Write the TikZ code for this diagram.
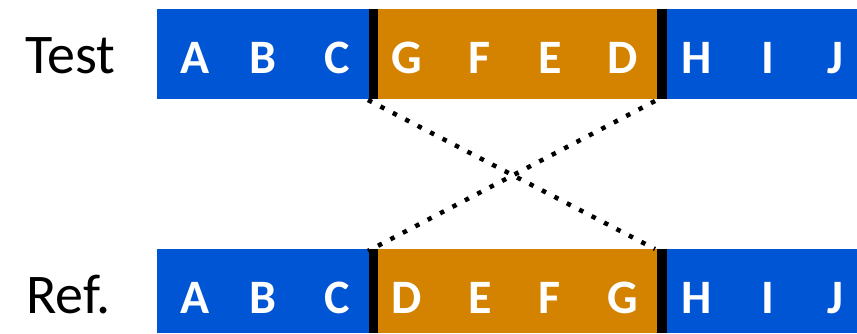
\documentclass[tikz,border=0pt]{standalone}
\usepackage{fontspec}
\setmainfont{Carlito}
\definecolor{barblue}{HTML}{0055D4}
\definecolor{barorange}{HTML}{D48300}
\begin{document}
\begin{tikzpicture}[x=1pt,y=-1pt,
  lab/.style={font=\fontsize{56}{60}\selectfont, text=black, anchor=base west, inner sep=0},
  let/.style={font=\bfseries\fontsize{48}{52}\selectfont, text=white, anchor=base, inner sep=0},
  sep/.style={line width=9.5pt, black},
  cross/.style={line width=4.5pt, dash pattern=on 4.5pt off 9.5pt}
]
\useasboundingbox (0,0) rectangle (857,333);
% top bar
\fill[barblue] (157,9) rectangle (374,99);
\fill[barorange] (374,9) rectangle (662,99);
\fill[barblue] (662,9) rectangle (857,99);
% bottom bar
\fill[barblue] (157,249) rectangle (374,333);
\fill[barorange] (374,249) rectangle (662,333);
\fill[barblue] (662,249) rectangle (857,333);
% separators
\coordinate (tl1) at (373.5,9); \coordinate (tl2) at (373.5,99);
\coordinate (tr1) at (662,9); \coordinate (tr2) at (662,99);
\coordinate (bl1) at (373.5,249); \coordinate (bl2) at (373.5,333);
\coordinate (br1) at (662,249); \coordinate (br2) at (662,333);
\draw[sep] (tl1) -- (tl2);
\draw[sep] (tr1) -- (tr2);
\draw[sep] (bl1) -- (bl2);
\draw[sep] (br1) -- (br2);
% labels
\node[lab] (test) at (25,73) {Test};
\node[lab] (ref) at (26,313) {Ref.};
% top letters
\node[let] (ta) at (195,73) {A};
\node[let] (tb) at (263,73) {B};
\node[let] (tc) at (337,73) {C};
\node[let] (tg) at (407,73) {G};
\node[let] (tf) at (480,73) {F};
\node[let] (te) at (550,73) {E};
\node[let] (td) at (623,73) {D};
\node[let] (th) at (697,73) {H};
\node[let] (ti) at (768,73) {I};
\node[let] (tj) at (835,73) {J};
% bottom letters
\node[let] (ba) at (195,313) {A};
\node[let] (bb) at (263,313) {B};
\node[let] (bc) at (337,313) {C};
\node[let] (bd) at (407,313) {D};
\node[let] (be) at (480,313) {E};
\node[let] (bf) at (550,313) {F};
\node[let] (bg) at (623,313) {G};
\node[let] (bh) at (697,313) {H};
\node[let] (bi) at (768,313) {I};
\node[let] (bj) at (835,313) {J};
% crossing dotted connectors
\coordinate (c1s) at (368,100);
\coordinate (c1e) at (655,249);
\coordinate (c2s) at (655,101);
\coordinate (c2e) at (368,251);
\draw[cross] (c1s) -- (c1e);
\draw[cross] (c2s) -- (c2e);
\end{tikzpicture}
\end{document}
